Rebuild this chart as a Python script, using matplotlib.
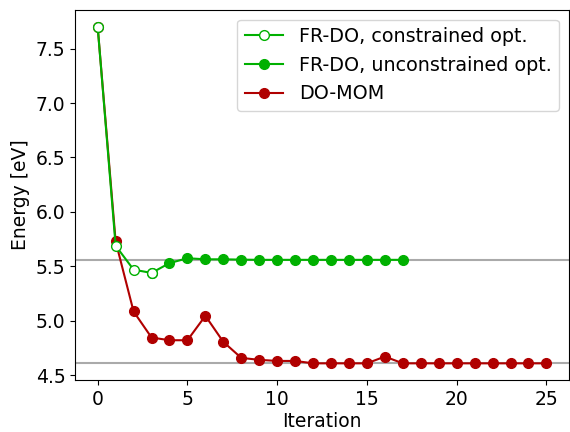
import numpy as np
import matplotlib
matplotlib.use('Agg')
from matplotlib import pyplot as plt

# energies per iteration (eV)
it_con = [0, 1, 2, 3]
e_con = [7.70, 5.69, 5.47, 5.44]

it_unc = list(range(3, 18))
e_unc = [5.44, 5.53, 5.575, 5.565, 5.565, 5.562, 5.56, 5.56, 5.56, 5.56,
         5.56, 5.56, 5.56, 5.56, 5.56]

it_mom = list(range(0, 26))
e_mom = [7.70, 5.73, 5.086, 4.847, 4.822, 4.822, 5.046, 4.807, 4.66, 4.642,
         4.632, 4.632, 4.61, 4.61, 4.61, 4.61, 4.672, 4.61, 4.61, 4.61,
         4.61, 4.61, 4.61, 4.61, 4.61, 4.61]

# reference energies
e_ref = [5.558, 4.61]

green = '#00b000'
red = '#b00000'

plt.rcParams['font.size'] = 13.5

fig, ax = plt.subplots(figsize=(5.7, 4.32), dpi=100)
fig.subplots_adjust(left=0.132, right=0.998, bottom=0.12, top=0.977)

for e in e_ref:
    ax.axhline(e, color='#aaaaaa', lw=1.5, zorder=1)

l3, = ax.plot(it_mom, e_mom, '-o', color=red, ms=7, lw=1.5, label='DO-MOM', zorder=2)
l2, = ax.plot(it_unc, e_unc, '-o', color=green, ms=7, lw=1.5,
              label='FR-DO, unconstrained opt.', zorder=3)
l1, = ax.plot(it_con, e_con, '-o', color=green, mfc='white', ms=7, lw=1.5,
              label='FR-DO, constrained opt.', zorder=4)

ax.set_xlabel('Iteration', labelpad=2)
ax.set_ylabel('Energy [eV]')
ax.legend(handles=[l1, l2, l3], loc='upper right', fontsize=13.8)

plt.savefig('out.png')
